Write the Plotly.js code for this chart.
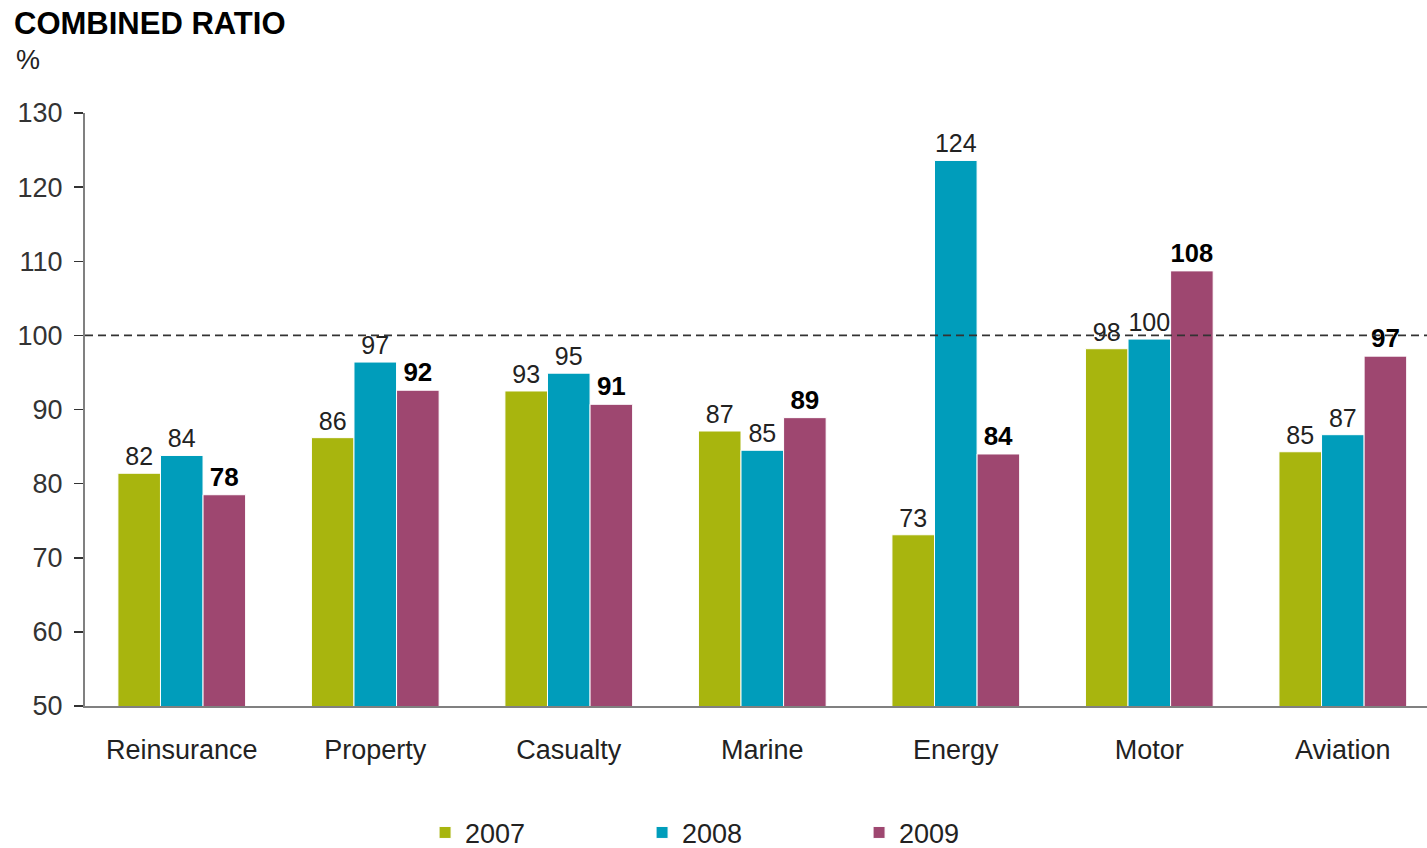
<!DOCTYPE html>
<html>
<head>
<meta charset="utf-8">
<script src="https://cdn.plot.ly/plotly-3.0.1.min.js"></script>
<style>html,body{margin:0;padding:0;background:#fff;overflow:hidden}</style>
</head>
<body>
<div id="chart" style="width:1427px;height:848px"></div>
<script>
const categories = ['Reinsurance','Property','Casualty','Marine','Energy','Motor','Aviation'];
const values2007 = [81.4, 86.2, 92.5, 87.1, 73.1, 98.2, 84.3];
const values2008 = [83.8, 96.4, 94.9, 84.5, 123.6, 99.5, 86.6];
const values2009 = [78.5, 92.6, 90.7, 88.9, 84.0, 108.7, 97.2];
const labels2007 = ['82','86','93','87','73','98','85'];
const labels2008 = ['84','97','95','85','124','100','87'];
const labels2009 = ['78','92','91','89','84','108','97'];
const yTicks = [50,60,70,80,90,100,110,120,130];
const breakEven = 100;

const FONT = 'Liberation Sans, Arial, sans-serif';

function series(name, vals, labels, color, bold) {
  return {
    type: 'bar', name: name, x: categories, y: vals,
    text: labels, textposition: 'outside', cliponaxis: false,
    textfont: {family: FONT, size: bold ? 26 : 25, color: bold ? '#000' : '#222', weight: bold ? 'bold' : 'normal'},
    marker: {color: color, line: {color: '#ffffff', width: 1}},
    hoverinfo: 'x+y'
  };
}

const data = [
  series('2007', values2007, labels2007, '#A8B50E', false),
  series('2008', values2008, labels2008, '#009DBB', false),
  series('2009', values2009, labels2009, '#9E4770', true)
];

const layout = {
  width: 1427, height: 848,
  margin: {l: 85, r: 0, t: 113, b: 142, autoexpand: false},
  paper_bgcolor: '#fff', plot_bgcolor: '#fff',
  font: {family: FONT, size: 26, color: '#222'},
  title: {text: 'COMBINED RATIO', x: 14/1427, xanchor: 'left', xref: 'container',
          y: 1 - 23/848, yanchor: 'middle', yref: 'container',
          font: {family: FONT, size: 31, color: '#000', weight: 'bold'}},
  bargap: 0.34, bargroupgap: 0,
  showlegend: true,
  legend: {orientation: 'h', x: 0.2534, xanchor: 'left', y: -0.214, yanchor: 'middle',
           entrywidth: 172, entrywidthmode: 'pixels',
           font: {family: FONT, size: 27, color: '#222'}},
  xaxis: {type: 'category', range: [-0.5, 6.435], showgrid: false, zeroline: false,
          showline: true, linecolor: '#808080', linewidth: 2,
          ticks: '', ticklabelstandoff: 19,
          tickfont: {family: FONT, size: 27, color: '#222'}},
  yaxis: {range: [50, 130], tickvals: yTicks, showgrid: false, zeroline: false,
          showline: true, linecolor: '#808080', linewidth: 2,
          ticks: 'outside', ticklen: 9, tickwidth: 1.5, tickcolor: '#333',
          ticklabelstandoff: 6,
          tickfont: {family: FONT, size: 27, color: '#333'}},
  shapes: [{type: 'line', xref: 'paper', x0: 0, x1: 1, yref: 'y', y0: breakEven, y1: breakEven,
            line: {color: '#333', width: 1.8, dash: '8px,5px'}, layer: 'above'}],
  annotations: [{text: '%', xref: 'paper', yref: 'paper', x: (14-85)/1342, y: (706-60)/593,
                 xanchor: 'left', yanchor: 'middle', showarrow: false,
                 font: {family: FONT, size: 27, color: '#222'}}]
};

Plotly.newPlot('chart', data, layout, {displayModeBar: false, staticPlot: true});
</script>
</body>
</html>
